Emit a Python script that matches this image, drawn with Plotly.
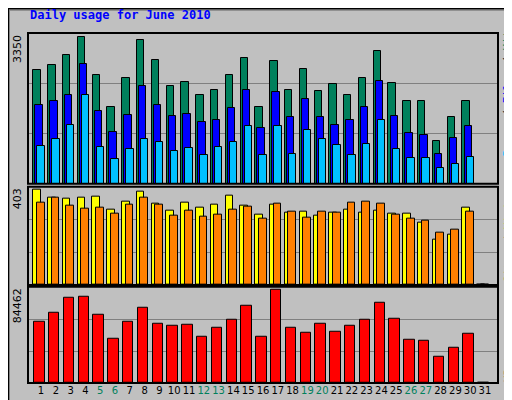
import plotly.graph_objects as go

days = list(range(1, 32))
weekend = [5, 6, 12, 13, 19, 20, 26, 27]
hits = [2537, 2662, 2870, 3269, 2426, 1716, 2359, 3202, 2758, 2182, 2270, 1982, 2093, 2426, 2803,
        1716, 2736, 2093, 2559, 2071, 2226, 1982, 2359, 2958, 2248, 1849, 1849, 961, 1494, 1849, 0]
files = [1760, 1849, 1982, 2670, 1627, 1161, 1538, 2182, 1760, 1516, 1560, 1383, 1427, 1694, 2093,
         1250, 2048, 1494, 1893, 1494, 1316, 1427, 1716, 2293, 1516, 1139, 1094, 673, 1028, 1294, 0]
pages = [850, 1006, 1316, 1982, 828, 562, 784, 1006, 939, 740, 806, 651, 828, 939, 1294,
         651, 1294, 673, 1205, 1006, 873, 651, 895, 1427, 784, 584, 584, 362, 451, 606, 0]
sites = [392, 358, 354, 358, 362, 311, 345, 383, 337, 307, 341, 320, 332, 366, 328,
         290, 332, 298, 303, 286, 298, 311, 298, 307, 294, 294, 256, 188, 209, 320, 0]
visits = [341, 358, 328, 315, 320, 294, 332, 358, 332, 286, 307, 281, 290, 311, 324,
          273, 337, 303, 277, 303, 298, 341, 345, 337, 290, 273, 264, 214, 230, 303, 0]
kbytes = [53694, 61838, 75413, 76318, 60028, 39215, 53694, 66363, 51884, 50074, 50979, 41025, 49169, 55504, 68173,
          41025, 82652, 49169, 44644, 51884, 45549, 50074, 55504, 70888, 56409, 38310, 37405, 22926, 31070, 43739, 0]
max_hits, max_sites, max_kb = 3350, 403, 84462

GREEN, BLUE, CYAN = "#00805C", "#0000FF", "#00C0FF"
ORANGE, YELLOW, RED = "#FF8000", "#FFFF00", "#FF0000"
MONO = "DejaVu Sans Mono"

fig = go.Figure()
def bars(y, color, off, w, ya):
    fig.add_trace(go.Bar(x=days, y=y, offset=off, width=w, marker=dict(color=color, line=dict(color="black", width=1)),
                         xaxis="x", yaxis=ya, showlegend=False))

bars(hits, GREEN, -0.52, 0.5, "y")
bars(files, BLUE, -0.38, 0.5, "y")
bars(pages, CYAN, -0.24, 0.5, "y")
bars(sites, YELLOW, -0.53, 0.52, "y2")
bars(visits, ORANGE, -0.28, 0.52, "y2")
bars(kbytes, RED, -0.46, 0.7, "y3")

ticktext = [f"<span style='color:{GREEN}'>{d}</span>" if d in weekend else str(d) for d in days]
fig.update_layout(
    width=512, height=400, margin=dict(l=20, r=22, t=25, b=22),
    paper_bgcolor="#C0C0C0", plot_bgcolor="#C0C0C0", barmode="overlay", bargap=0,
    xaxis=dict(range=[0.12, 31.88], tickvals=days, ticktext=ticktext, showgrid=False, zeroline=False,
               ticks="", tickangle=0, tickfont=dict(family="DejaVu Sans", size=10, color="black"), anchor="y3"),
    yaxis=dict(domain=[0.569, 1.0], range=[0, max_hits * 1.005], tickvals=[max_hits / 3, 2 * max_hits / 3],
               showticklabels=False, gridcolor="#808080", zeroline=False),
    yaxis2=dict(domain=[0.280, 0.561], range=[0, max_sites * 1.005], tickvals=[max_sites / 3, 2 * max_sites / 3],
                showticklabels=False, gridcolor="#808080", zeroline=False),
    yaxis3=dict(domain=[0.0, 0.275], range=[0, max_kb * 1.005], tickvals=[max_kb / 3, 2 * max_kb / 3],
                showticklabels=False, gridcolor="#808080", zeroline=False),
)
for d0, d1 in [(0.569, 1.0), (0.280, 0.561), (0.0, 0.275)]:
    fig.add_shape(type="rect", xref="paper", yref="paper", x0=0, x1=1, y0=d0, y1=d1,
                  line=dict(color="black", width=2), layer="above")
W, H = 470, 353
fig.add_shape(type="rect", xref="paper", yref="paper", x0=-19.5 / W, x1=1 + 20 / W, y0=-20 / H, y1=1 + 24 / H,
              line=dict(color="#808080", width=3))
fig.add_shape(type="rect", xref="paper", yref="paper", x0=-20 / W, x1=1 + 22 / W, y0=-22 / H, y1=1 + 25 / H,
              line=dict(color="black", width=2))

fig.add_annotation(text="<b>Daily usage for June 2010</b>", xref="paper", yref="paper", x=0, y=1 + 18 / H,
                   xanchor="left", yanchor="middle", showarrow=False, font=dict(family=MONO, size=12, color=BLUE))
for txt, y in [("3350", 1.0), ("403", 0.561), ("84462", 0.275)]:
    fig.add_annotation(text=txt, xref="paper", yref="paper", x=-11 / W, y=y, textangle=-90, xanchor="center",
                       yanchor="top", showarrow=False, font=dict(family="DejaVu Sans", size=11, color="black"))
# right-hand legends, centred on their text spans (pixels from top: 27-137, 180-277, 335-378)
legs = [
    (f"<span style='color:{CYAN}'>Pages</span> / <span style='color:{BLUE}'>Files</span> / <span style='color:{GREEN}'>Hits</span>", 82),
    (f"<span style='color:{ORANGE}'>Sites</span> / <span style='color:{YELLOW}'>Visits</span>", 229),
    (f"<span style='color:{RED}'>KBytes</span>", 357),
]
for txt, ypx in legs:
    fig.add_annotation(text=txt, xref="paper", yref="paper", x=1 + 10 / W, y=(378 - ypx) / H, textangle=-90,
                       xanchor="center", yanchor="middle", showarrow=False,
                       font=dict(family=MONO, size=11, color="black"))

fig.write_html("out.html")
